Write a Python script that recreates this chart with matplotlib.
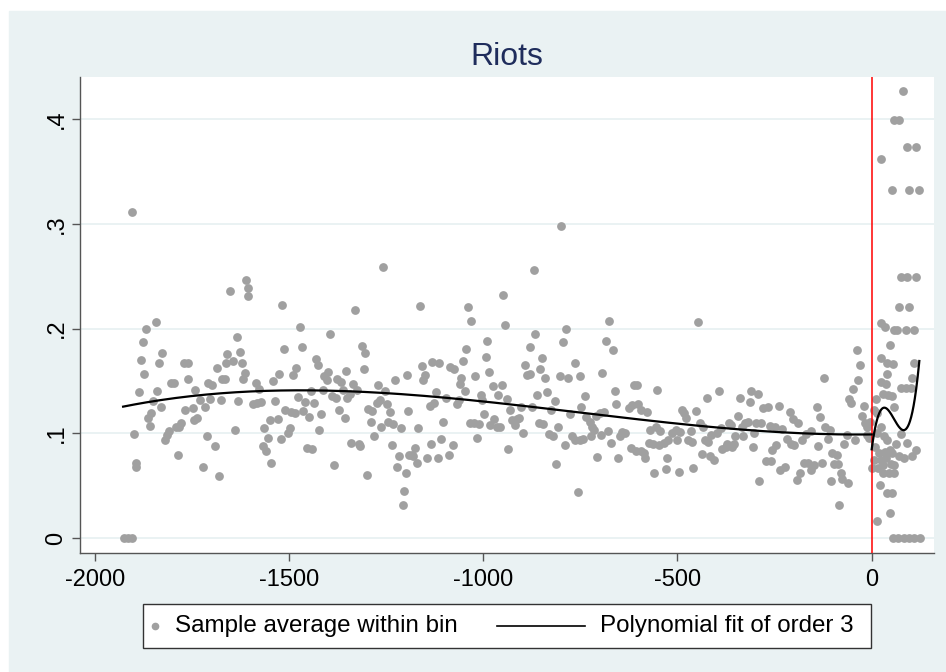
import numpy as np
import matplotlib
matplotlib.use("Agg")
import matplotlib.pyplot as plt  # noqa: E402
from matplotlib.patches import Rectangle  # noqa: E402
from matplotlib.lines import Line2D  # noqa: E402

plt.rcParams['font.family'] = ['Liberation Sans', 'DejaVu Sans']

# ---- bin averages, left of the cutoff (x < 0) ----
left_x = [
    -1925, -1915, -1905, -1904, -1899, -1895, -1893, -1886, -1881, -1877, -1873, -1869,
    -1864, -1859, -1856, -1851, -1843, -1839, -1835, -1830, -1826, -1820, -1814, -1809,
    -1804, -1796, -1790, -1786, -1783, -1777, -1771, -1768, -1761, -1759, -1748, -1744,
    -1741, -1737, -1729, -1722, -1717, -1712, -1708, -1704, -1697, -1690, -1685, -1680,
    -1676, -1673, -1665, -1663, -1660, -1652, -1644, -1639, -1634, -1630, -1626, -1621,
    -1618, -1613, -1610, -1606, -1605,
    -1592, -1586, -1583, -1577, -1573, -1566, -1564, -1560, -1553, -1549, -1546, -1540,
    -1535, -1529, -1525, -1521, -1517, -1512, -1509, -1502, -1497, -1496, -1489, -1485,
    -1483, -1476, -1472, -1467, -1463, -1459, -1453, -1448, -1444, -1441, -1436, -1431,
    -1426, -1422, -1418, -1413, -1410, -1401, -1399, -1394, -1390, -1384, -1379, -1377,
    -1371, -1367, -1362, -1357, -1353, -1350, -1343, -1340, -1334, -1330, -1326, -1321,
    -1317, -1313, -1308, -1304, -1300, -1296, -1289, -1287, -1281, -1274, -1271, -1267,
    -1262, -1258, -1254, -1248, -1244, -1240, -1236, -1231, -1226, -1221, -1216, -1211,
    -1207, -1203, -1199, -1197, -1193, -1190,
    -1184, -1180, -1175, -1171, -1167, -1162, -1158, -1154, -1149, -1144, -1138, -1135,
    -1131, -1126, -1121, -1117, -1113, -1108, -1104, -1096, -1089, -1085, -1079, -1075,
    -1068, -1062, -1061, -1057, -1052, -1048, -1044, -1039, -1034, -1031, -1023, -1020,
    -1016, -1010, -1006, -1002, -997, -994, -989, -985, -982, -975, -971, -965,
    -962, -956, -952, -948, -943, -939, -935, -930, -926, -918, -913, -907,
    -903, -898, -892, -887, -880, -879, -874, -870, -866, -862, -857, -853,
    -849, -846, -840, -836, -830, -825, -820, -816, -812, -807, -803, -799,
    -794, -789, -786, -783,
    -776, -771, -765, -763, -756, -752, -750, -748, -743, -739, -735, -726,
    -722, -720, -714, -709, -707, -700, -697, -693, -688, -684, -679, -675,
    -671, -666, -662, -657, -653, -649, -642, -634, -625, -619, -617, -611,
    -607, -604, -602, -595, -593, -587, -584, -578, -574, -571, -563, -560,
    -554, -552, -547, -544, -535, -530, -527, -524, -513, -505, -501, -497,
    -494, -488, -482, -477, -472, -466, -462, -461, -451, -447, -443, -437,
    -434, -430, -425, -422, -417, -413, -405, -399, -394, -389, -385, -376,
    -372, -368,
    -363, -360, -355, -351, -344, -339, -333, -331, -325, -319, -314, -310,
    -306, -302, -297, -293, -289, -286, -279, -273, -267, -262, -260, -256,
    -250, -247, -239, -235, -230, -222, -217, -211, -209, -202, -200, -193,
    -190, -185, -180, -174, -168, -164, -157, -155, -149, -142, -137, -133,
    -127, -123, -119, -112, -107, -106, -101, -97, -90, -88, -84, -78,
    -76, -70, -64, -61, -58, -52, -47, -43, -39, -34, -30, -24,
    -20, -17, -13, -11, -7, -4,
]
left_y = [
    0.0, 0.0, 0.0, 0.311, 0.099, 0.068, 0.072, 0.139, 0.170, 0.187, 0.157, 0.200,
    0.115, 0.107, 0.119, 0.131, 0.206, 0.140, 0.167, 0.125, 0.177, 0.094, 0.098, 0.102,
    0.148, 0.148, 0.106, 0.079, 0.106, 0.110, 0.167, 0.122, 0.167, 0.152, 0.124, 0.113,
    0.141, 0.115, 0.132, 0.068, 0.125, 0.097, 0.148, 0.133, 0.146, 0.088, 0.162, 0.059,
    0.132, 0.152, 0.152, 0.167, 0.176, 0.236, 0.169, 0.103, 0.192, 0.131, 0.178, 0.167,
    0.152, 0.158, 0.246, 0.231, 0.239,
    0.128, 0.148, 0.129, 0.142, 0.130, 0.088, 0.105, 0.083, 0.096, 0.113, 0.072, 0.150,
    0.131, 0.114, 0.157, 0.095, 0.223, 0.181, 0.122, 0.100, 0.105, 0.120, 0.156, 0.119,
    0.162, 0.135, 0.202, 0.182, 0.121, 0.130, 0.086, 0.116, 0.140, 0.085, 0.129, 0.171,
    0.165, 0.103, 0.118, 0.141, 0.155, 0.151, 0.159, 0.195, 0.136, 0.070, 0.134, 0.152,
    0.122, 0.149, 0.141, 0.115, 0.160, 0.134, 0.138, 0.091, 0.147, 0.218, 0.141, 0.090,
    0.088, 0.183, 0.161, 0.177, 0.060, 0.123, 0.111, 0.121, 0.097, 0.129, 0.146, 0.132,
    0.106, 0.259, 0.140, 0.128, 0.111, 0.120, 0.089, 0.109, 0.151, 0.068, 0.078, 0.105,
    0.032, 0.045, 0.062, 0.156, 0.121, 0.079,
    0.079, 0.078, 0.086, 0.072, 0.105, 0.222, 0.164, 0.151, 0.156, 0.076, 0.126, 0.090,
    0.168, 0.129, 0.139, 0.076, 0.167, 0.095, 0.111, 0.134, 0.079, 0.163, 0.089, 0.161,
    0.128, 0.132, 0.147, 0.153, 0.169, 0.140, 0.181, 0.221, 0.110, 0.207, 0.110, 0.155,
    0.096, 0.109, 0.137, 0.132, 0.118, 0.173, 0.188, 0.159, 0.108, 0.145, 0.114, 0.106,
    0.137, 0.106, 0.146, 0.232, 0.203, 0.133, 0.085, 0.122, 0.113, 0.108, 0.114, 0.115,
    0.125, 0.100, 0.165, 0.156, 0.157, 0.182, 0.125, 0.256, 0.195, 0.137, 0.110, 0.161,
    0.172, 0.109, 0.153, 0.139, 0.099, 0.122, 0.097, 0.131, 0.071, 0.106, 0.155, 0.298,
    0.187, 0.089, 0.200, 0.153,
    0.118, 0.097, 0.167, 0.094, 0.044, 0.155, 0.094, 0.125, 0.095, 0.136, 0.116, 0.111,
    0.097, 0.106, 0.103, 0.117, 0.077, 0.119, 0.098, 0.158, 0.120, 0.188, 0.102, 0.207,
    0.091, 0.180, 0.140, 0.128, 0.076, 0.097, 0.101, 0.100, 0.124, 0.086, 0.127, 0.146,
    0.083, 0.146, 0.128, 0.083, 0.122, 0.081, 0.076, 0.120, 0.091, 0.103, 0.090, 0.062,
    0.106, 0.141, 0.089, 0.102, 0.091, 0.066, 0.076, 0.094, 0.100, 0.103, 0.094, 0.063,
    0.101, 0.122, 0.119, 0.115, 0.094, 0.102, 0.092, 0.067, 0.121, 0.206, 0.110, 0.080,
    0.106, 0.094, 0.134, 0.092, 0.078, 0.098, 0.075, 0.100, 0.140, 0.105, 0.085, 0.087,
    0.090, 0.110,
    0.108, 0.087, 0.090, 0.097, 0.117, 0.134, 0.106, 0.097, 0.110, 0.111, 0.130, 0.140,
    0.087, 0.100, 0.110, 0.138, 0.054, 0.110, 0.124, 0.074, 0.125, 0.107, 0.074, 0.084,
    0.106, 0.089, 0.126, 0.065, 0.104, 0.068, 0.095, 0.120, 0.090, 0.114, 0.089, 0.055,
    0.110, 0.062, 0.094, 0.072, 0.099, 0.072, 0.102, 0.065, 0.070, 0.125, 0.088, 0.116,
    0.072, 0.153, 0.106, 0.095, 0.103, 0.054, 0.081, 0.071, 0.079, 0.071, 0.032, 0.062,
    0.056, 0.090, 0.098, 0.053, 0.133, 0.129, 0.142, 0.094, 0.180, 0.151, 0.165, 0.117,
    0.126, 0.110, 0.098, 0.106, 0.096, 0.111,
]

# ---- bin averages, right of the cutoff (x > 0) ----
right_x = [
    80, 58, 71, 23, 92, 113, 53, 96, 122, 75, 92, 113, 71, 96, 25, 34,
    58, 66, 88, 109, 47, 23, 39, 56, 109, 40, 105, 23, 36, 75, 88, 101,
    30, 42, 53, 10, 58, 6, 13, 75, 23, 13, 32, 40, 62, 92, 113, 105,
    8, 19, 34, 47, 53, 6, 23, 36, 71, 82, 2, 15, 28, 49, 58, 28,
    45, 58, 21, 40, 51, 47, 13, 55, 68, 82, 96, 110, 125,
]
right_y = [
    0.427, 0.399, 0.399, 0.362, 0.373, 0.373, 0.332, 0.332, 0.332, 0.249, 0.249, 0.249,
    0.221, 0.221, 0.205, 0.202,
    0.199, 0.199, 0.199, 0.199, 0.184, 0.172, 0.167, 0.166, 0.167, 0.157, 0.153, 0.149,
    0.147, 0.143, 0.143, 0.143,
    0.138, 0.137, 0.136, 0.133, 0.125, 0.122, 0.119, 0.099, 0.106, 0.100, 0.097, 0.094,
    0.090, 0.091, 0.084, 0.078,
    0.087, 0.081, 0.082, 0.084, 0.081, 0.075, 0.075, 0.076, 0.078, 0.076, 0.067, 0.067,
    0.070, 0.071, 0.070, 0.062,
    0.062, 0.062, 0.051, 0.043, 0.043, 0.024, 0.016, 0.0, 0.0, 0.0, 0.0, 0.0, 0.0,
]

# ---- points ----
fit_left_x = [-1927, -1622, -1454, -1325, -1188, -1001, -871, -776, -587, -389, -217, 0]
fit_left_y = [0.1255, 0.1397, 0.1407, 0.140, 0.1366, 0.1309, 0.1254, 0.1206, 0.1127,
              0.1054, 0.1006, 0.099]
fit_right_x = [0, 12.9, 30, 47, 64, 81, 98.6, 111, 122.6]
fit_right_y = [0.0824, 0.1159, 0.1239, 0.1191, 0.1079, 0.1032, 0.1127, 0.135, 0.1675]

y_ticks = [0, 0.1, 0.2, 0.3, 0.4]
y_ticklabels = ["0", ".1", ".2", ".3", ".4"]
x_ticks = [-2000, -1500, -1000, -500, 0]

BG = "#eaf2f3"
DOT = "#a0a0a0"
AXCOL = "#555555"
W, H = 946, 672

fig = plt.figure(figsize=(W / 100, H / 100), dpi=100)
fig.patch.set_facecolor("white")
fig.add_artist(Rectangle((9 / W, 0), 1 - 9 / W, 1 - 11 / H,
                         transform=fig.transFigure, color=BG, zorder=-10))

ax = fig.add_axes([80 / W, 1 - 552.7 / H, (934 - 80) / W, (552.7 - 76.7) / H])
ax.set_facecolor("white")

ax.scatter(left_x + right_x, left_y + right_y, s=40, color=DOT, linewidths=0, zorder=2)


def _cubic(xs, ys):
    coef = np.polyfit(xs, ys, 3)
    grid = np.linspace(min(xs), max(xs), 200)
    return grid, np.polyval(coef, grid)


gx, gy = _cubic(fit_left_x, fit_left_y)
ax.plot(gx, gy, color="black", lw=1.6, zorder=4)
gx, gy = _cubic(fit_right_x, fit_right_y)
ax.plot(gx, gy, color="black", lw=1.6, zorder=4)

ax.axvline(0, color="red", lw=1.1, zorder=3)

ax.set_xlim(-2038, 160.4)
ax.set_ylim(-0.014, 0.4406)
ax.set_xticks(x_ticks)
ax.set_xticklabels([str(t) for t in x_ticks])
ax.set_yticks(y_ticks)
ax.set_yticklabels(y_ticklabels, rotation=90, va="center")
ax.yaxis.grid(True, color=BG, lw=1.4)
ax.set_axisbelow(True)

for side in ("top", "right"):
    ax.spines[side].set_visible(False)
for side in ("left", "bottom"):
    ax.spines[side].set_color(AXCOL)
    ax.spines[side].set_linewidth(1.0)
ax.tick_params(direction="out", length=6, width=1, color=AXCOL, labelsize=17)
ax.tick_params(axis="y", pad=3)
ax.tick_params(axis="x", pad=6)

fig.text(507 / W, 1 - 65 / H, "Riots", ha="center", va="baseline",
         fontsize=23, color="#1f2d5c")

# legend box below the plot
ly = 1 - 626.3 / H
fig.add_artist(Rectangle((142.7 / W, 1 - 648.3 / H), (871.3 - 142.7) / W, 44 / H,
                         transform=fig.transFigure, facecolor="white",
                         edgecolor="#333333", lw=1.0))
fig.add_artist(Line2D([155 / W], [ly], marker="o", ms=4.5, color=DOT, lw=0,
                      transform=fig.transFigure))
fig.add_artist(Line2D([497 / W, 585 / W], [ly, ly], color="black", lw=1.2,
                      transform=fig.transFigure))
fig.text(175 / W, ly, "Sample average within bin", fontsize=17.4, va="center")
fig.text(600 / W, ly, "Polynomial fit of order 3", fontsize=17.4, va="center")

fig.savefig("out.png", dpi=100)
